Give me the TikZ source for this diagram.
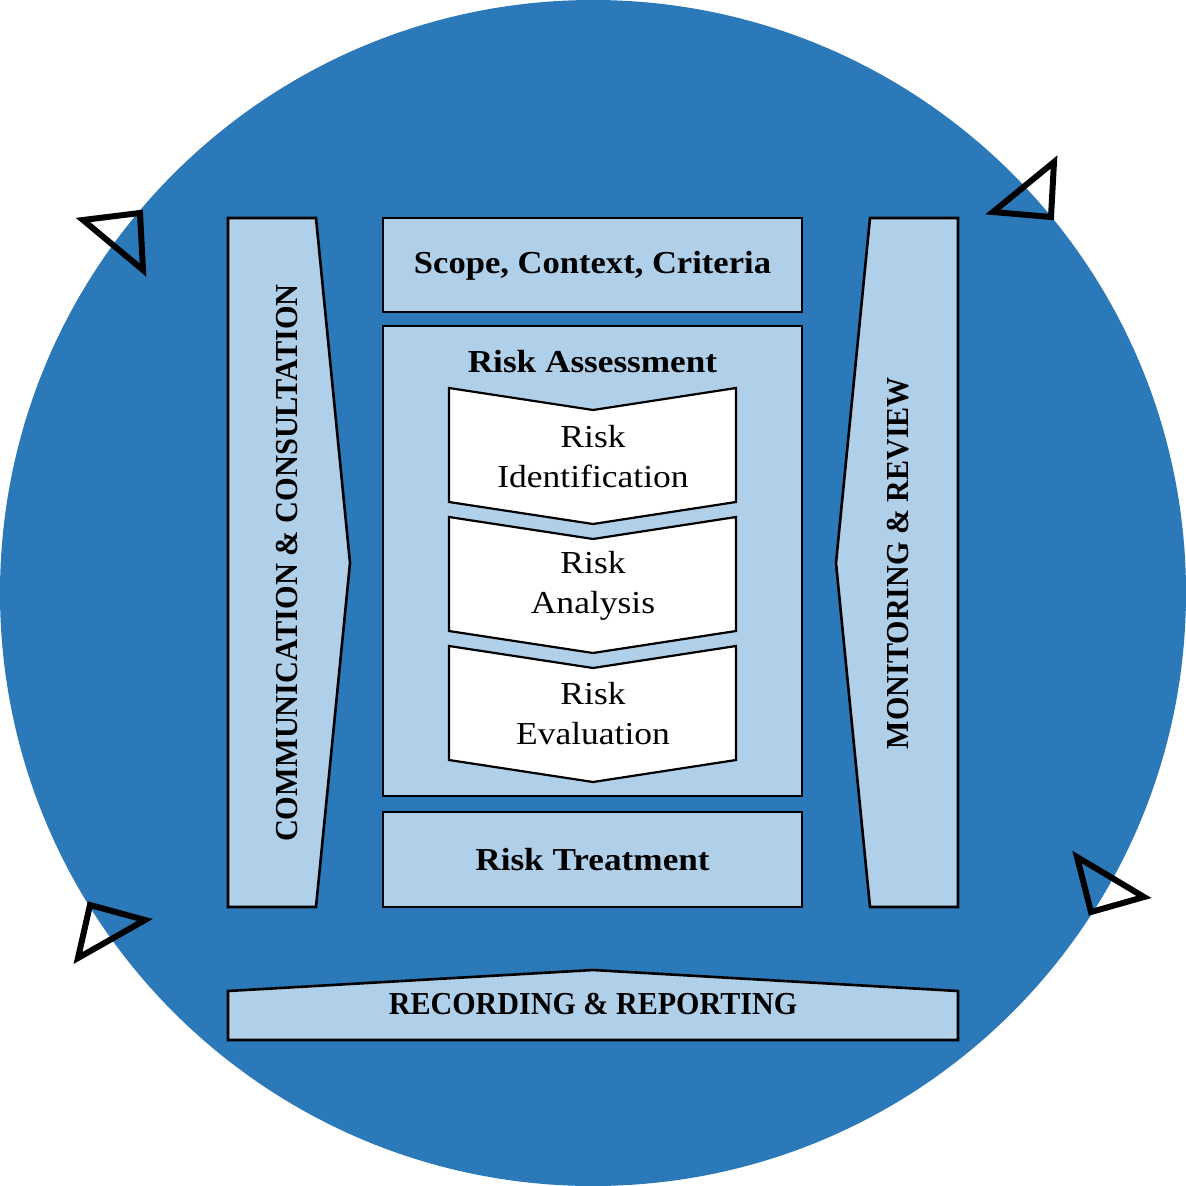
\documentclass[tikz,border=0pt]{standalone}
\usepackage{graphicx}
\usepackage{fontspec}
\setmainfont{Liberation Serif}
\definecolor{circblue}{HTML}{2B79B9}
\definecolor{lightblue}{HTML}{B0D0EA}
\newcommand{\hsc}[2]{\scalebox{#1}[1]{#2}}
\begin{document}
\begin{tikzpicture}[x=1pt,y=-1pt,
 box/.style={draw=black,line width=2.6pt,fill=lightblue,line join=miter},
 chev/.style={draw=black,line width=2.2pt,fill=white,line join=miter},
 tri/.style={draw=black,line width=6pt,line join=miter},
 btxt/.style={font=\bfseries\fontsize{32}{38}\selectfont},
 stxt/.style={font=\bfseries\fontsize{32}{38}\selectfont},
 ctxt/.style={font=\fontsize{32}{40}\selectfont,align=center}]
\useasboundingbox (0,0) rectangle (1186,1186);
\fill[circblue] (593,593) circle (593pt);
% arrow heads on the circle
\draw[tri] (83,220) -- (140,213) -- (143,270) -- cycle;
\draw[tri] (993,212) -- (1054,162) -- (1051,217) -- cycle;
\draw[tri] (90,905) -- (145,920) -- (78,958) -- cycle;
\draw[tri] (1077,857) -- (1144,897) -- (1091,912) -- cycle;
% side bars
\draw[box] (228,218) -- (316,218) -- (350,563) -- (316,907) -- (228,907) -- cycle;
\node[stxt,rotate=90] (comm) at (287,563) {\hsc{0.95}{COMMUNICATION \& CONSULTATION}};
\draw[box] (870,218) -- (958,218) -- (958,907) -- (870,907) -- (836,563) -- cycle;
\node[stxt,rotate=90] (mon) at (898,563) {\hsc{0.94}{MONITORING \& REVIEW}};
% central boxes
\node[box,minimum width=419pt,minimum height=94pt,inner sep=0pt] (scope) at (592.5,265) {};
\node[btxt] (scopet) at (592.5,266) {\hsc{1.08}{Scope, Context, Criteria}};
\node[box,minimum width=419pt,minimum height=470pt,inner sep=0pt] (ra) at (592.5,561) {};
\node[btxt] (rat) at (592.5,362) {\hsc{1.1}{Risk Assessment}};
\node[box,minimum width=419pt,minimum height=95pt,inner sep=0pt] (rt) at (592.5,859.5) {};
\node[btxt] (rtt) at (592.5,860) {\hsc{1.1}{Risk Treatment}};
% chevrons
\draw[chev] (449,388) -- (593,410) -- (736,388) -- (736,502) -- (593,524) -- (449,502) -- cycle;
\node[ctxt] (ri) at (593,457) {\hsc{1.11}{Risk}\\\hsc{1.11}{Identification}};
\draw[chev] (449,517) -- (593,539) -- (736,517) -- (736,631) -- (593,653) -- (449,631) -- cycle;
\node[ctxt] (ran) at (593,586) {\hsc{1.11}{Risk}\\\hsc{1.11}{Analysis}};
\draw[chev] (449,646) -- (593,668) -- (736,646) -- (736,760) -- (593,782) -- (449,760) -- cycle;
\node[ctxt] (rev) at (593,714) {\hsc{1.11}{Risk}\\\hsc{1.11}{Evaluation}};
% bottom bar
\draw[box] (228,991) -- (593,970) -- (958,991) -- (958,1040) -- (228,1040) -- cycle;
\node[stxt] (rec) at (593,1004) {\hsc{0.94}{RECORDING \& REPORTING}};
\end{tikzpicture}
\end{document}
